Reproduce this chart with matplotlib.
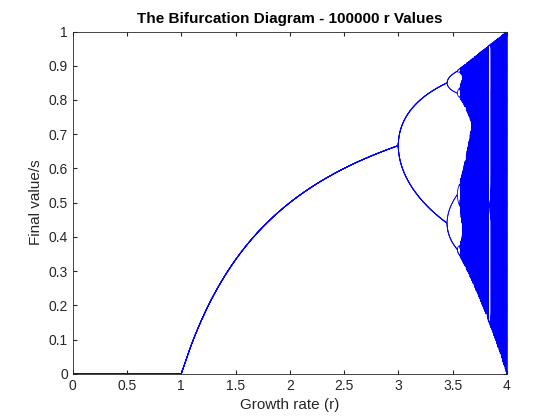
import numpy as np
import matplotlib
matplotlib.use("Agg")
import matplotlib.pyplot as plt

# Parameters of the logistic map x_{n+1} = r x_n (1 - x_n)
r_min, r_max = 0.0, 4.0
n_r = 6000
n_transient = 1000
n_keep = 10
x0 = 0.5

title = "The Bifurcation Diagram - 100000 r Values"
xlabel = "Growth rate (r)"
ylabel = "Final value/s"
xticks = [0, 0.5, 1, 1.5, 2, 2.5, 3, 3.5, 4]
yticks = [0, 0.1, 0.2, 0.3, 0.4, 0.5, 0.6, 0.7, 0.8, 0.9, 1]

r = np.linspace(r_min, r_max, n_r)
x = np.full(n_r, x0)
for _ in range(n_transient):
    x = r * x * (1 - x)
X = np.empty((n_r, n_keep))
for k in range(n_keep):
    x = r * x * (1 - x)
    X[:, k] = x

plt.rcParams['font.family'] = ['Liberation Sans', 'DejaVu Sans']
fig = plt.figure(figsize=(5.6, 4.2), dpi=100)
ax = fig.add_axes([0.13, 0.11, 0.775, 0.815])
ax.plot(r, X, color='#0000ff', linewidth=0.6)
ax.set_xlim(0, 4)
ax.set_ylim(0, 1)
ax.set_xticks(xticks)
ax.set_xticklabels([f"{t:g}" for t in xticks])
ax.set_yticks(yticks)
ax.set_yticklabels([f"{t:g}" for t in yticks])
ax.tick_params(direction='in', length=3, labelsize=10, top=True, right=True,
               colors='#262626')
for s in ax.spines.values():
    s.set_color('#262626')
    s.set_linewidth(0.6)
ax.set_xlabel(xlabel, fontsize=11, color='#262626')
ax.set_ylabel(ylabel, fontsize=11, color='#262626')
ax.set_title(title, fontsize=11, fontweight='bold')
fig.savefig("out.png", dpi=100)
